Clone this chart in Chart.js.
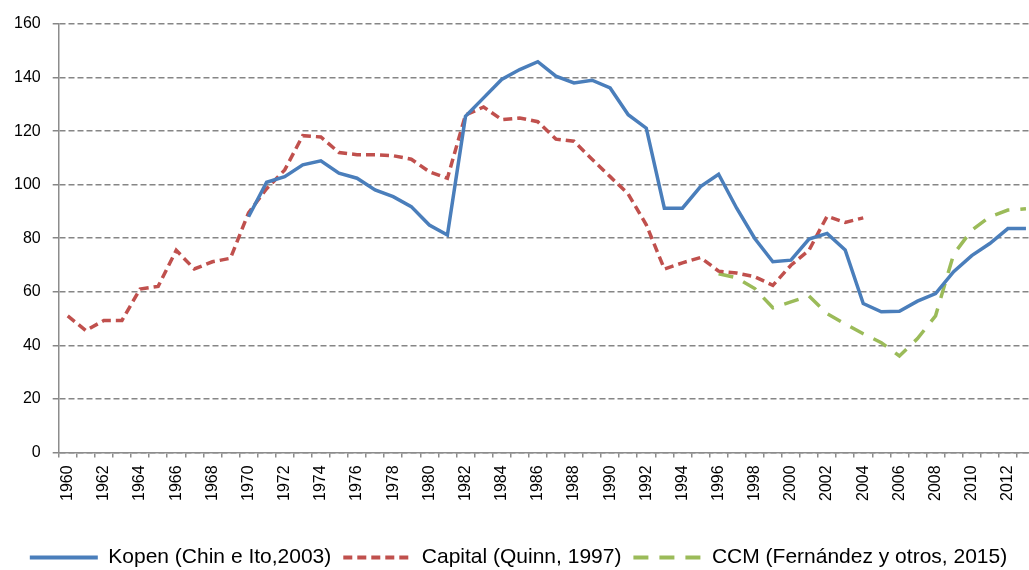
<!DOCTYPE html>
<html>
<head>
<meta charset="utf-8">
<script src="https://cdn.jsdelivr.net/npm/chart.js@4/dist/chart.umd.min.js"></script>
<style>
  html, body { margin: 0; padding: 0; background: #fff; overflow: hidden; width: 1029px; height: 570px; }
  #wrap { width: 1072px; height: 570px; position: relative; }
</style>
</head>
<body>
<div id="wrap"><canvas id="chart"></canvas></div>
<script>
const years = [];
for (let y = 1960; y <= 2013; y++) years.push(String(y));

// Capital (Quinn, 1997): 1960-2004
const capital = [
  51, 45.5, 49.3, 49.3, 61, 62, 75.5, 68.5, 71.2, 72.5,
  89.5, 98.5, 105.5, 118.3, 117.8, 112, 111.2, 111.2, 110.8, 109.5,
  104.8, 102.4, 126, 129, 124.3, 124.9, 123.5, 117, 116.2, 109.5,
  103, 96.5, 85, 68.5, 70.8, 72.8, 67.7, 67, 65.6, 62.4,
  69.9, 75.5, 88.2, 85.9, 87.6
];

// Kopen (Chin e Ito, 2003): 1970-2013
const kopen = [
  88, 100.9, 103, 107.4, 108.9, 104.3, 102.4, 98, 95.5, 91.8,
  84.9, 81.2, 125.5, 132.4, 139.3, 143, 145.9, 140.5, 138, 139,
  136.1, 126.1, 121.1, 91.2, 91.2, 99.3, 103.9, 91.2, 79.9, 71.2,
  71.8, 79.7, 81.8, 75.6, 55.6, 52.5, 52.7, 56.5, 59.3, 67.5,
  73.5, 78, 83.6, 83.6
];

// CCM (Fernández y otros, 2015): 1996-2013
const ccm = [
  66.7, 65.2, 61.2, 54, 56.2, 58.4, 51.8, 48, 44.3, 41,
  36, 42.5, 51, 74, 83, 88, 90.5, 91
];

const yTicks = [0, 20, 40, 60, 80, 100, 120, 140, 160];

function alignTo(startYear, values) {
  const out = years.map(() => null);
  const start = years.indexOf(String(startYear));
  values.forEach((v, i) => { out[start + i] = v; });
  return out;
}

const ctx = document.getElementById("chart").getContext("2d");

new Chart(ctx, {
  type: "line",
  data: {
    labels: years,
    datasets: [
      {
        label: "Kopen (Chin e Ito,2003)",
        data: alignTo(1970, kopen),
        borderColor: "#4a7ebb",
        backgroundColor: "#4a7ebb",
        borderWidth: 3.5,
        pointRadius: 0,
        tension: 0,
      },
      {
        label: "Capital (Quinn, 1997)",
        data: alignTo(1960, capital),
        borderColor: "#c0504d",
        backgroundColor: "#c0504d",
        borderWidth: 3.5,
        borderDash: [9, 5],
        pointRadius: 0,
        tension: 0,
      },
      {
        label: "CCM (Fernández y otros, 2015)",
        data: alignTo(1996, ccm),
        borderColor: "#9bbb59",
        backgroundColor: "#9bbb59",
        borderWidth: 3.5,
        borderDash: [15, 11],
        pointRadius: 0,
        tension: 0,
      },
    ],
  },
  options: {
    responsive: true,
    maintainAspectRatio: false,
    animation: false,
    layout: { padding: { top: 24, right: 37, left: 2, bottom: -8 } },
    scales: {
      x: {
        offset: true,
        afterFit: (scale) => { scale.height += 26; },
        grid: {
          offset: true,
          drawOnChartArea: false,
          drawTicks: true,
          tickLength: 5,
          color: "#8c8c8c",
          lineWidth: 1.5,
        },
        border: { color: "#8c8c8c", width: 1.5 },
        ticks: {
          autoSkip: false,
          minRotation: 90,
          maxRotation: 90,
          padding: 8,
          color: "#000",
          font: { family: "Liberation Sans, Arial", size: 16 },
          callback: function (val, i) {
            return i % 2 === 0 ? years[i] : "";
          },
        },
      },
      y: {
        min: 0,
        max: 160,
        afterBuildTicks: (axis) => {
          axis.ticks = yTicks.map((v) => ({ value: v }));
        },
        grid: {
          color: "#868686",
          lineWidth: 1.5,
          tickBorderDash: [],
          tickLength: 6,
        },
        border: { color: "#8c8c8c", width: 1.5, dash: [6, 3] },
        ticks: {
          color: "#000",
          padding: 12,
          font: { family: "Liberation Sans, Arial", size: 16 },
        },
      },
    },
    plugins: {
      legend: {
        position: "bottom",
        labels: {
          boxWidth: 68,
          color: "#000",
          padding: 12,
          font: { family: "Liberation Sans, Arial", size: 21 },
          generateLabels: (chart) =>
            Chart.defaults.plugins.legend.labels.generateLabels(chart).map((item, i) => {
              const ds = chart.data.datasets[i];
              return Object.assign(item, {
                pointStyle: "line",
                lineDash: ds.borderDash || [],
                lineWidth: 4,
                strokeStyle: ds.borderColor,
              });
            }),
          usePointStyle: true,
          pointStyleWidth: 68,
        },
      },
      tooltip: { enabled: false },
    },
  },
});
</script>
</body>
</html>
